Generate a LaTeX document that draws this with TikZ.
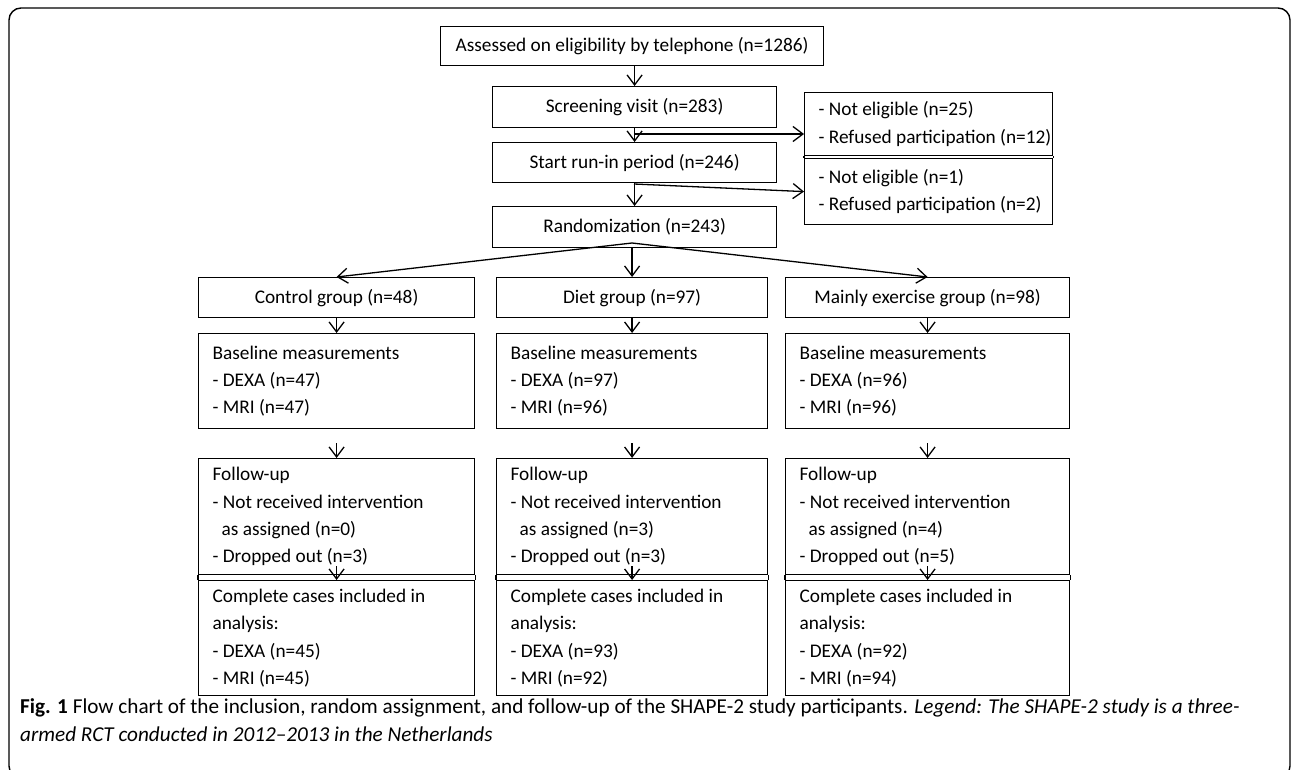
\documentclass[tikz,border=0pt]{standalone}
\usepackage{fontspec}
\setmainfont{Carlito}
\usetikzlibrary{arrows.meta}
\newcommand{\boxfont}{\fontsize{19.3}{27.3}\selectfont}
\newcommand{\capfont}{\fontsize{21.2}{28}\selectfont}

\begin{document}
\begin{tikzpicture}[x=1pt,y=-1pt,
  box/.style={draw,line width=1.2pt,anchor=north west,inner sep=0pt,font=\boxfont},
  listbox/.style={box,align=flush left,inner xsep=14pt},
  arr/.style={line width=1.3pt,-{Straight Barb[length=10pt,width=15pt]}}]

\useasboundingbox (0,0) rectangle (1292,770);
\draw [line width=1.4pt,rounded corners=12pt] (9,8) rectangle (1290,778);

% enrolment
\node [box,minimum width=383pt,minimum height=39pt] (assess) at (440,26) {Assessed on eligibility by telephone (n=1286)};
\node [box,minimum width=284pt,minimum height=41pt] (screen) at (492,86) {Screening visit (n=283)};
\node [box,minimum width=284pt,minimum height=40pt] (runin) at (492,142) {Start run-in period (n=246)};
\node [box,minimum width=284pt,minimum height=41pt] (rand) at (492,206) {Randomization (n=243)};

% excluded
\node [listbox,text width=220pt,minimum height=63pt] (excltop) at (804,92) {- Not eligible (n=25)\\ \mbox{- Refused participation (n=12)}};
\node [listbox,text width=220pt,minimum height=66pt] (exclbot) at (804,158) {- Not eligible (n=1)\\ \mbox{- Refused participation (n=2)}};
\draw [line width=1.2pt] (excltop.south west)--(exclbot.north west);
\draw [line width=1.2pt] (excltop.south east)--(exclbot.north east);

% groups
\node [box,minimum width=276pt,minimum height=40pt] (ctrl) at (198,277) {Control group (n=48)};
\node [box,minimum width=271pt,minimum height=40pt] (diet) at (496,277) {Diet group (n=97)};
\node [box,minimum width=284pt,minimum height=40pt] (exer) at (785,277) {Mainly exercise group (n=98)};

% baseline
\node [listbox,text width=248pt,minimum height=95pt] (ctrlbase) at (198,333) {Baseline measurements\\ - DEXA (n=47)\\ - MRI (n=47)};
\node [listbox,text width=243pt,minimum height=95pt] (dietbase) at (496,333) {Baseline measurements\\ - DEXA (n=97)\\ - MRI (n=96)};
\node [listbox,text width=256pt,minimum height=95pt] (exerbase) at (785,333) {Baseline measurements\\ - DEXA (n=96)\\ - MRI (n=96)};

% follow-up
\node [listbox,text width=248pt,minimum height=116pt] (ctrlfu) at (198,458) {Follow-up\\ - Not received intervention\\ \hspace*{9pt}as assigned (n=0)\\ - Dropped out (n=3)};
\node [listbox,text width=243pt,minimum height=116pt] (dietfu) at (496,458) {Follow-up\\ - Not received intervention\\ \hspace*{9pt}as assigned (n=3)\\ - Dropped out (n=3)};
\node [listbox,text width=256pt,minimum height=116pt] (exerfu) at (785,458) {Follow-up\\ - Not received intervention\\ \hspace*{9pt}as assigned (n=4)\\ - Dropped out (n=5)};

% analysis
\node [listbox,text width=248pt,minimum height=115pt] (ctrlcc) at (198,580) {Complete cases included in\\ analysis:\\ - DEXA (n=45)\\ - MRI (n=45)};
\node [listbox,text width=243pt,minimum height=115pt] (dietcc) at (496,580) {Complete cases included in\\ analysis:\\ - DEXA (n=93)\\ - MRI (n=92)};
\node [listbox,text width=256pt,minimum height=115pt] (exercc) at (785,580) {Complete cases included in\\ analysis:\\ - DEXA (n=92)\\ - MRI (n=94)};
\foreach \g in {ctrl,diet,exer}{
  \draw [line width=1.2pt] (\g fu.south west)--(\g cc.north west);
  \draw [line width=1.2pt] (\g fu.south east)--(\g cc.north east);
}

% arrows
\draw [arr] (screen.north |- assess.south)--(screen.north);
\draw [arr] (screen.south)--(runin.north);
\draw [arr] (runin.south)--(rand.north);
\coordinate (b1) at (634,134);
\coordinate (b2) at (634,184);
\draw [arr] (b1)--(b1 -| excltop.west);
\draw [arr] (b2)--(exclbot.west);
\coordinate (r0) at (632,243);
\draw [arr] (r0)--(ctrl.north);
\draw [arr] (r0)--(exer.north);
\draw [arr] (diet.north |- rand.south)--(diet.north);
\foreach \g in {ctrl,diet,exer}{
  \draw [arr] (\g.south)--(\g base.north);
  \draw [arr,shorten <=14pt] (\g base.south)--(\g fu.north);
  \draw [arr] ([yshift=9pt]\g fu.south)--(\g cc.north);
}

% caption
\node [anchor=base west,font=\capfont,inner sep=0pt] (cap1) at (20,713) {\textbf{Fig. 1} Flow chart of the inclusion, random assignment, and follow-up of the SHAPE-2 study participants. \textit{Legend: The SHAPE-2 study is a three-}};
\node [anchor=base west,font=\capfont,inner sep=0pt] (cap2) at (20,741) {\textit{armed RCT conducted in 2012--2013 in the Netherlands}};
\end{tikzpicture}
\end{document}
